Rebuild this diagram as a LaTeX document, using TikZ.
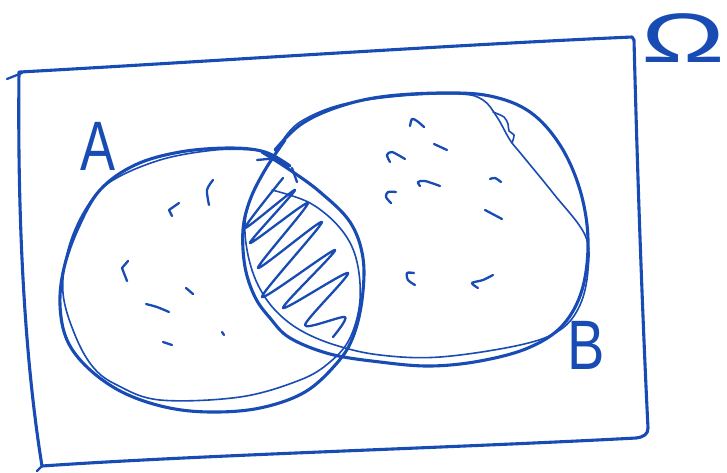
\documentclass[tikz,border=0pt]{standalone}
\usepackage{fontspec}
\setmainfont{Liberation Sans}
\definecolor{pen}{RGB}{25,75,180}
\begin{document}
\begin{tikzpicture}[x=1pt,y=-1pt,
  heavy/.style={draw=pen,line width=3.1pt,line cap=round,line join=round},
  light/.style={draw=pen,line width=1.6pt,line cap=round,line join=round},
  speck/.style={draw=pen,line width=2.3pt,line cap=round,line join=round},
  lbl/.style={text=pen,inner sep=0pt,font=\fontsize{70}{70}\selectfont}]
\useasboundingbox (0,0) rectangle (727,472);
% frame Omega
\draw[heavy] (20,72) .. controls (200,62) and (450,45) .. (632,37)
  -- (634,40) .. controls (638,200) and (644,350) .. (648,428)
  .. controls (648,434) and (644,437) .. (636,438)
  .. controls (450,448) and (200,455) .. (42,466)
  .. controls (28,380) and (17,250) .. (19,72);
\draw[speck] (7,79) -- (22,73);
\draw[speck] (42,466) -- (37,471);
% set A
\draw[heavy] plot[smooth,tension=0.6] coordinates {(290,166) (265,152) (230,148) (180,152) (135,165) (100,190) (78,228) (64,268) (60,305) (67,340) (88,368) (122,392) (165,407) (210,412) (260,408) (305,392) (337,363) (353,337) (362,300) (363,258) (350,222) (320,192) (290,170) (262,152)};
\draw[light] plot[smooth,tension=0.6] coordinates {(272,190) (310,203) (340,228) (356,258) (360,300) (350,338) (330,362) (300,380) (240,397) (160,400) (117,385) (93,367) (75,335) (63,293) (68,250) (85,210) (110,182) (160,160) (215,150) (255,150)};
% set B
\draw[heavy] plot[smooth,tension=0.6] coordinates {(285,140) (265,170) (250,200) (243,230) (245,267) (255,297) (270,318) (290,338) (330,354) (380,362) (430,366) (480,361) (528,348) (562,326) (582,290) (588,240) (580,190) (560,145) (530,112) (490,96) (440,93) (380,97) (335,108) (300,125) (275,150)};
\draw[light] plot[smooth,tension=0.6] coordinates {(283,140) (300,122) (340,105) (400,96) (460,94) (483,100) (497,117) (510,140) (522,155) (553,193) (585,235) (588,270) (580,305) (560,330) (520,345) (440,357) (380,355) (335,345) (300,330) (275,310) (258,285) (248,255) (245,223) (252,195) (265,170) (280,148)};
\draw[light] plot[smooth] coordinates {(493,112) (504,117) (508,124) (509,131) (514,135) (512,143)};
% hatching of the intersection
\draw[speck] plot[smooth,tension=0.45] coordinates {(283,178) (245,228) (295,190) (250,243) (308,203) (258,268) (322,222) (262,297) (335,250) (283,308) (348,273) (305,325) (345,317) (333,337)};
\draw[speck] (257,160) -- (278,158);
\draw[speck] (292,168) -- (297,182);
% specks in A
\draw[speck] plot[smooth] coordinates {(213,180) (207,190) (209,205)};
\draw[speck] (179,203) -- (169,210) -- (172,216);
\draw[speck] (128,261) -- (122,268) -- (127,281);
\draw[speck] (186,288) -- (193,294);
\draw[speck] plot[smooth] coordinates {(146,304) (157,307) (169,312)};
\draw[speck] (222,332) -- (224,335);
\draw[speck] (163,342) -- (172,345);
% specks in B
\draw[speck] plot[smooth] coordinates {(410,126) (412,119) (417,121) (424,127)};
\draw[speck] (434,144) -- (447,150);
\draw[speck] plot[smooth] coordinates {(390,162) (387,155) (392,152) (405,159)};
\draw[speck] plot[smooth] coordinates {(420,186) (418,182) (425,181) (440,186)};
\draw[speck] plot[smooth] coordinates {(391,203) (386,197) (388,192) (396,192)};
\draw[speck] plot[smooth] coordinates {(490,179) (495,178) (501,182)};
\draw[speck] (485,210) -- (502,219);
\draw[speck] plot[smooth] coordinates {(414,273) (407,273) (408,280) (415,285)};
\draw[speck] plot[smooth] coordinates {(493,275) (483,280) (472,283) (478,288)};
% labels
\node[lbl,xscale=0.75] (labA) at (98,146) {A};
\node[lbl,xscale=0.8] (labB) at (586,345) {B};
\node[lbl,xscale=1.6] (labO) at (683,38) {Ω};
\end{tikzpicture}
\end{document}
